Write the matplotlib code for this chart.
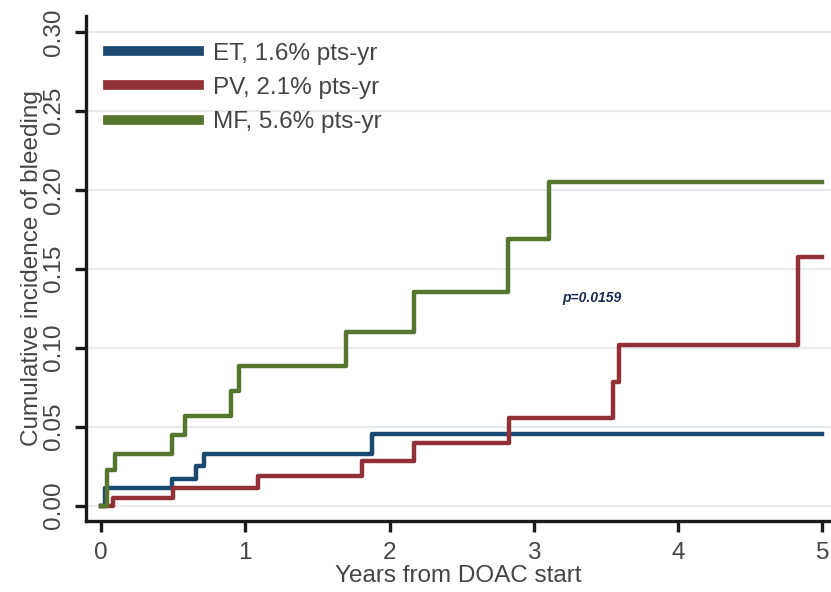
import numpy as np
import matplotlib
matplotlib.use('Agg')
import matplotlib.pyplot as plt
from matplotlib.lines import Line2D

plt.rcParams['font.family'] = ['Liberation Sans', 'DejaVu Sans']

# step times (years) and cumulative incidence
et_t = [0, 0.03, 0.495, 0.66, 0.714, 1.88, 5.0]
et_y = [0, 0.011, 0.017, 0.025, 0.0325, 0.0453, 0.0453]
pv_t = [0, 0.085, 0.50, 1.085, 1.81, 2.17, 2.83, 3.546, 3.59, 4.83, 5.0]
pv_y = [0, 0.0051, 0.0114, 0.0188, 0.0285, 0.0399, 0.0557, 0.0785, 0.1018, 0.1577, 0.1577]
mf_t = [0, 0.04, 0.097, 0.495, 0.58, 0.90, 0.957, 1.70, 2.17, 2.82, 3.107, 5.0]
mf_y = [0, 0.0226, 0.0325, 0.0448, 0.057, 0.0726, 0.0887, 0.110, 0.1355, 0.1687, 0.2048, 0.2048]

labels = ['ET, 1.6% pts-yr', 'PV, 2.1% pts-yr', 'MF, 5.6% pts-yr']
colors = ['#1a4a72', '#923038', '#56752f']
xticks = [0, 1, 2, 3, 4, 5]
yticks = [0.00, 0.05, 0.10, 0.15, 0.20, 0.25, 0.30]

fs = 17.5
fig = plt.figure(figsize=(8.31, 5.92), dpi=100)
ax = fig.add_axes([86/831, 1-521/592, 745/831, 505/592])

ax.step(et_t, et_y, where='post', color=colors[0], lw=3.2)
ax.step(pv_t, pv_y, where='post', color=colors[1], lw=3.2)
ax.step(mf_t, mf_y, where='post', color=colors[2], lw=3.2)

ax.set_xlim(-0.104, 5.06)
ax.set_ylim(-0.0097, 0.310)
ax.set_xticks(xticks)
ax.set_yticks(yticks)
ax.set_yticklabels(['%.2f' % v for v in yticks], rotation=90, va='center')
ax.grid(axis='y', color='#e6eaec', lw=1.5)
ax.set_axisbelow(True)
for s in ['top', 'right']:
    ax.spines[s].set_visible(False)
for s in ['left', 'bottom']:
    ax.spines[s].set_linewidth(2.4)
    ax.spines[s].set_color('#1a1a1a')
ax.tick_params(length=8, width=2.4, color='#1a1a1a', labelsize=fs,
               labelcolor='#444444', pad=7)
ax.set_xlabel('Years from DOAC start', fontsize=fs, color='#444444', labelpad=1)
ax.set_ylabel('Cumulative incidence of bleeding', fontsize=fs, color='#444444', labelpad=0)

ax.text(3.4, 0.1315, 'p=0.0159', style='italic', fontweight='bold', fontsize=10,
        color='#1a2a50', ha='center', va='center')

handles = [Line2D([], [], color=c, lw=7) for c in colors]
ax.legend(handles, labels, loc='upper left', bbox_to_anchor=(-0.007, 1.0),
          frameon=False, fontsize=fs, handlelength=3.75, handletextpad=0.6,
          labelspacing=0.5, labelcolor='#444444', borderaxespad=0.7)

fig.savefig('out.png', dpi=100)
